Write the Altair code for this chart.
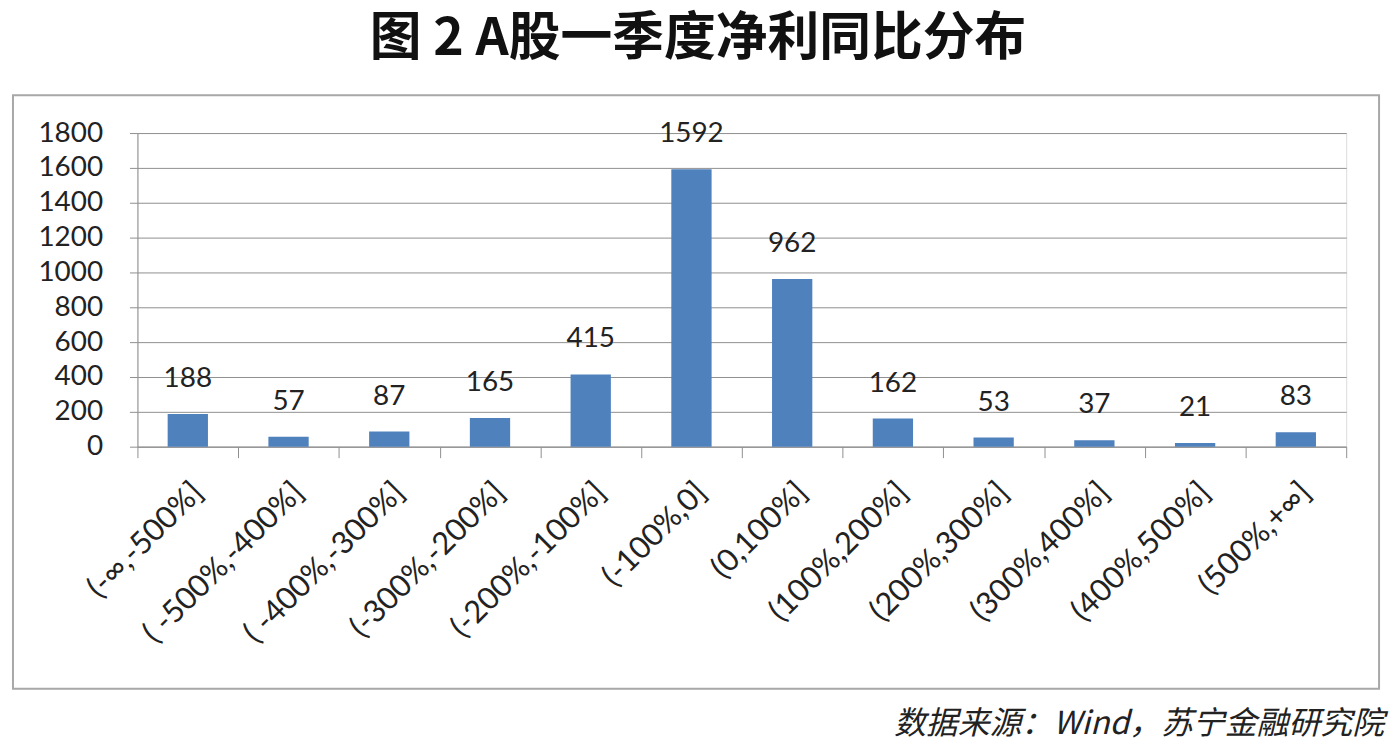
import altair as alt
import pandas as pd

categories = ["(-∞,-500%]", "( -500%,-400%]", "( -400%,-300%]", "(-300%,-200%]",
              "(-200%,-100%]", "(-100%,0]", "(0,100%]", "(100%,200%]",
              "(200%,300%]", "(300%,400%]", "(400%,500%]", "(500%,+∞]"]
counts = [188, 57, 87, 165, 415, 1592, 962, 162, 53, 37, 21, 83]
y_ticks = [0, 200, 400, 600, 800, 1000, 1200, 1400, 1600, 1800]
title_text = "图 2 A股一季度净利同比分布"
source_text = "数据来源：Wind，苏宁金融研究院"

df = pd.DataFrame({"cat": categories, "n": counts})
one = pd.DataFrame({"title": [title_text], "source": [source_text]})

GRAY = "#8f8f8f"
NUMFONT = "Lato"

x_axis = alt.Axis(title=None, labelAngle=-45, labelAlign="right",
                  labelBaseline="middle", labelFontSize=31,
                  labelFont=NUMFONT, labelColor="#222222",
                  labelPadding=30, labelOffset=10, labelLimit=0,
                  tickBand="extent", tickSize=11, tickColor=GRAY,
                  domainColor=GRAY, grid=False, labelOverlap=False)
y_axis = alt.Axis(title=None, values=y_ticks, format="d", labelFontSize=28,
                  labelFont=NUMFONT, labelColor="#222222", labelOverlap=False,
                  labelPadding=27, tickSize=8, tickColor=GRAY,
                  domainColor=GRAY, gridColor=GRAY, gridOpacity=1)
x_scale = alt.Scale(paddingInner=0, paddingOuter=0)
y_scale = alt.Scale(domain=[0, 1800], nice=False)

x_enc = alt.X("cat:N", sort=categories, scale=x_scale, axis=x_axis)
y_enc = alt.Y("n:Q", scale=y_scale, axis=y_axis)

box = alt.Chart(one).mark_rect(fillOpacity=0, stroke="#a8a8a8", strokeWidth=2).encode(
    x=alt.value(-125), x2=alt.value(1247), y=alt.value(-38), y2=alt.value(558))

bars = alt.Chart(df).mark_bar(color="#4F81BD", width=alt.RelativeBandSize(0.4)).encode(
    x=x_enc, y=y_enc)

labels = alt.Chart(df).mark_text(fontSize=28, font=NUMFONT, color="#222222",
                                 baseline="middle", dy=-35).encode(
    x=x_enc, y=y_enc, text="n:Q")

title = alt.Chart(one).mark_text(fontSize=52, font="Noto Sans CJK SC", fontWeight="bold",
                                 color="#111111", align="center", baseline="middle").encode(
    x=alt.value(563), y=alt.value(-94), text="title:N")

source = alt.Chart(one).mark_text(fontSize=32, font="Noto Sans CJK SC", fontStyle="italic",
                                  color="#222222", align="right", baseline="middle").encode(
    x=alt.value(1252), y=alt.value(594), text="source:N")

chart = alt.layer(box, bars, labels, title, source).properties(
    width=1214, height=315,
    autosize=alt.AutoSizeParams(type="none"),
    padding={"left": 130, "top": 124, "right": 45, "bottom": 295},
).configure_view(stroke="transparent").configure(background="white")

chart.save("out.html", embed_options={"renderer": "svg", "actions": False})
